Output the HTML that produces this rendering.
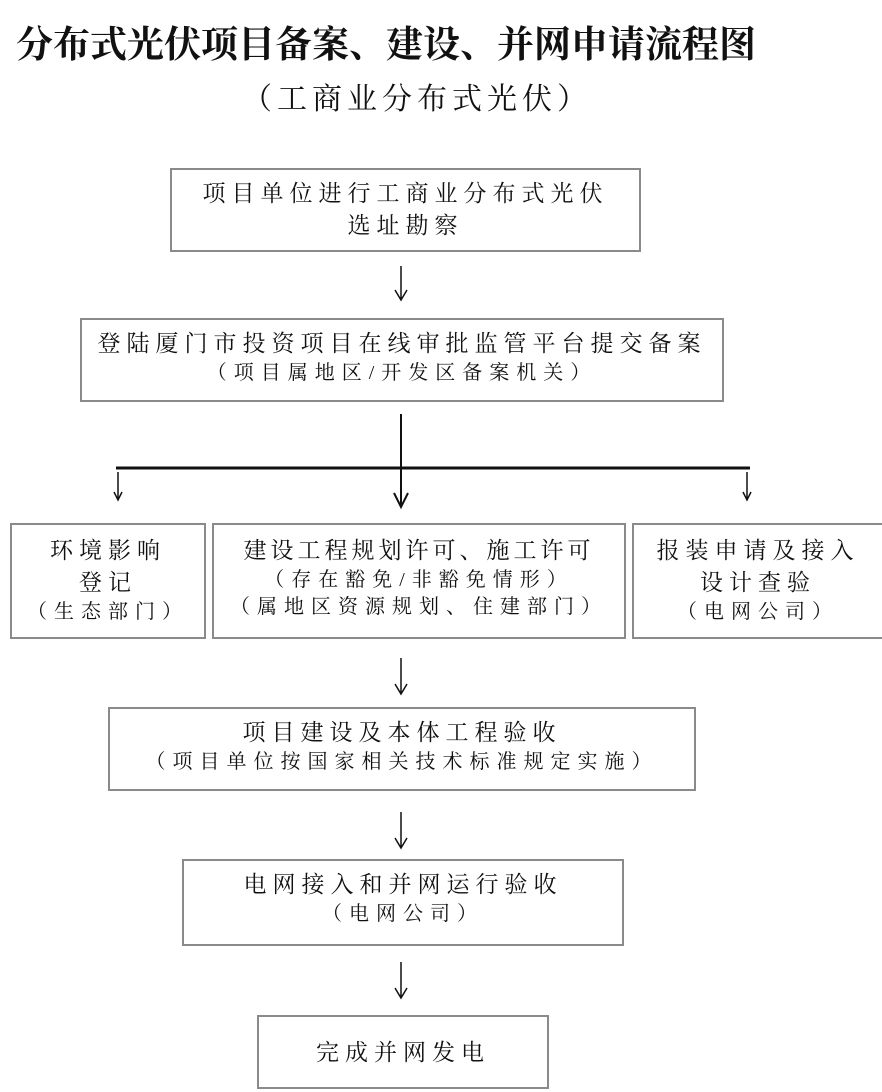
<!DOCTYPE html>
<html><head><meta charset="utf-8"><style>
html,body{margin:0;padding:0;background:#fff;}
body{width:882px;height:1092px;position:relative;overflow:hidden;font-family:"Liberation Serif","Noto Serif CJK SC",serif;color:#111;}
.t{position:absolute;white-space:nowrap;}
.box{position:absolute;border:2px solid #8a8a8a;box-sizing:border-box;text-align:center;}
.l{font-size:23px;letter-spacing:6px;line-height:32px;}
.s{font-size:20px;letter-spacing:7px;line-height:27px;}
svg{position:absolute;left:0;top:0;}
</style></head><body>
<div class="t" style="left:16px;top:14px;font-size:37px;font-weight:bold;letter-spacing:0px;">分布式光伏项目备案、建设、并网申请流程图</div>
<div class="t" style="left:242px;top:74px;font-size:30px;letter-spacing:5px;">（工商业分布式光伏）</div>

<div class="box" style="left:170px;top:168px;width:471px;height:84px;padding-top:8px;"><div class="l">项目单位进行工商业分布式光伏</div><div class="l">选址勘察</div></div>

<div class="box" style="left:80px;top:318px;width:644px;height:84px;padding-top:8px;"><div class="l">登陆厦门市投资项目在线审批监管平台提交备案</div><div class="s">（项目属地区/开发区备案机关）</div></div>

<div class="box" style="left:10px;top:523px;width:196px;height:116px;padding-top:10px;"><div class="l">环境影响</div><div class="l">登记</div><div class="s">（生态部门）</div></div>
<div class="box" style="left:212px;top:523px;width:414px;height:116px;padding-top:10px;"><div class="l" style="letter-spacing:4px">建设工程规划许可、施工许可</div><div class="s">（存在豁免/非豁免情形）</div><div class="s">（属地区资源规划、住建部门）</div></div>
<div class="box" style="left:632px;top:523px;width:252px;height:116px;padding-top:10px;"><div class="l">报装申请及接入</div><div class="l">设计查验</div><div class="s">（电网公司）</div></div>

<div class="box" style="left:108px;top:707px;width:588px;height:84px;padding-top:8px;"><div class="l">项目建设及本体工程验收</div><div class="s">（项目单位按国家相关技术标准规定实施）</div></div>

<div class="box" style="left:182px;top:859px;width:442px;height:87px;padding-top:8px;"><div class="l">电网接入和并网运行验收</div><div class="s">（电网公司）</div></div>

<div class="box" style="left:257px;top:1015px;width:292px;height:74px;padding-top:20px;"><div class="l">完成并网发电</div></div>

<svg width="882" height="1092" fill="none" stroke="#111" stroke-width="1.5">
<path d="M401 266V300M395 290L401 300L407 290"/>
<path d="M401 414V507M394 493L401 507L408 493" stroke-width="2"/>
<path d="M116 468H750" stroke-width="3"/>
<path d="M118 472V500M114 492L118 500L122 492"/>
<path d="M747 472V500M743 492L747 500L751 492"/>
<path d="M401 658V694M395 684L401 694L407 684"/>
<path d="M401 812V848M395 838L401 848L407 838"/>
<path d="M401 962V998M395 988L401 998L407 988"/>
</svg>
</body></html>
